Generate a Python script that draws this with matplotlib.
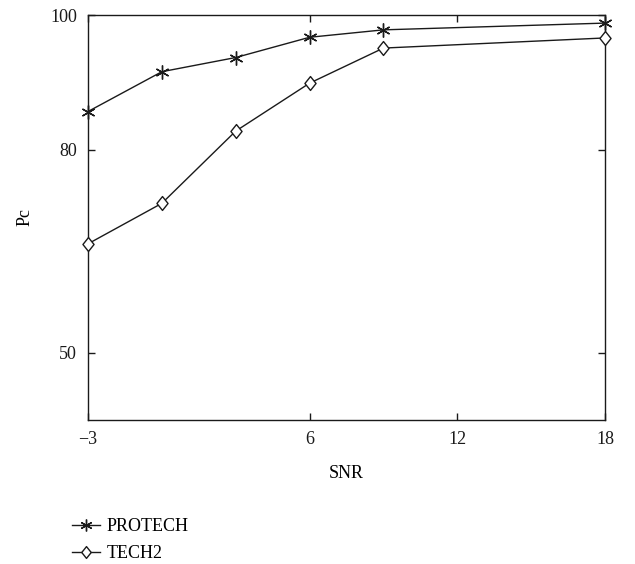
import matplotlib.pyplot as plt
from matplotlib.path import Path

plt.rcParams['font.family'] = ['Liberation Serif', 'DejaVu Serif']

# SNR values and classification rates
snr = [-3, 0, 3, 6, 9, 18]
protech = [85.7, 91.6, 93.7, 96.7, 97.8, 98.8]
tech2 = [66.1, 72.1, 82.8, 89.9, 95.1, 96.6]

xticks = [-3, 6, 12, 18]
xticklabels = ["\u22123", "6", "12", "18"]
yticks = [50, 80, 100]

# diamond a bit wider than matplotlib's thin diamond
diamond = Path([(0, 1), (0.8, 0), (0, -1), (-0.8, 0), (0, 1)],
               [Path.MOVETO, Path.LINETO, Path.LINETO, Path.LINETO, Path.CLOSEPOLY])

fig = plt.figure(figsize=(6.35, 5.64), dpi=100)
ax = fig.add_axes([88 / 635, 1 - 420 / 564, (605 - 88) / 635, (420 - 15) / 564])

ax.plot(snr, protech, color="#1a1a1a", lw=1.0, marker=(6, 2, 0), ms=10,
        mew=1.0, label="PROTECH", clip_on=False, zorder=3)
ax.plot(snr, tech2, color="#1a1a1a", lw=1.0, marker=diamond, ms=10, mfc="white",
        mew=1.0, label="TECH2", clip_on=False, zorder=3)

ax.set_xlim(-3, 18)
ax.set_ylim(40, 100)
ax.set_xticks(xticks)
ax.set_xticklabels(xticklabels)
ax.set_yticks(yticks)
ax.tick_params(direction="in", top=True, right=True, length=5, width=1,
               labelsize=13, pad=8, colors="#1a1a1a")
for s in ax.spines.values():
    s.set_linewidth(1.0)
    s.set_color("#1a1a1a")

ax.set_xlabel("SNR", fontsize=13, labelpad=12)
ax.set_ylabel("Pc", fontsize=13, labelpad=12)

ax.legend(loc="upper left", bbox_to_anchor=(-0.044, -0.225), frameon=False,
          fontsize=13, handlelength=1.5, handletextpad=0.4, labelspacing=0.53,
          borderaxespad=0, markerscale=0.85)

fig.savefig("out.png", dpi=100)
